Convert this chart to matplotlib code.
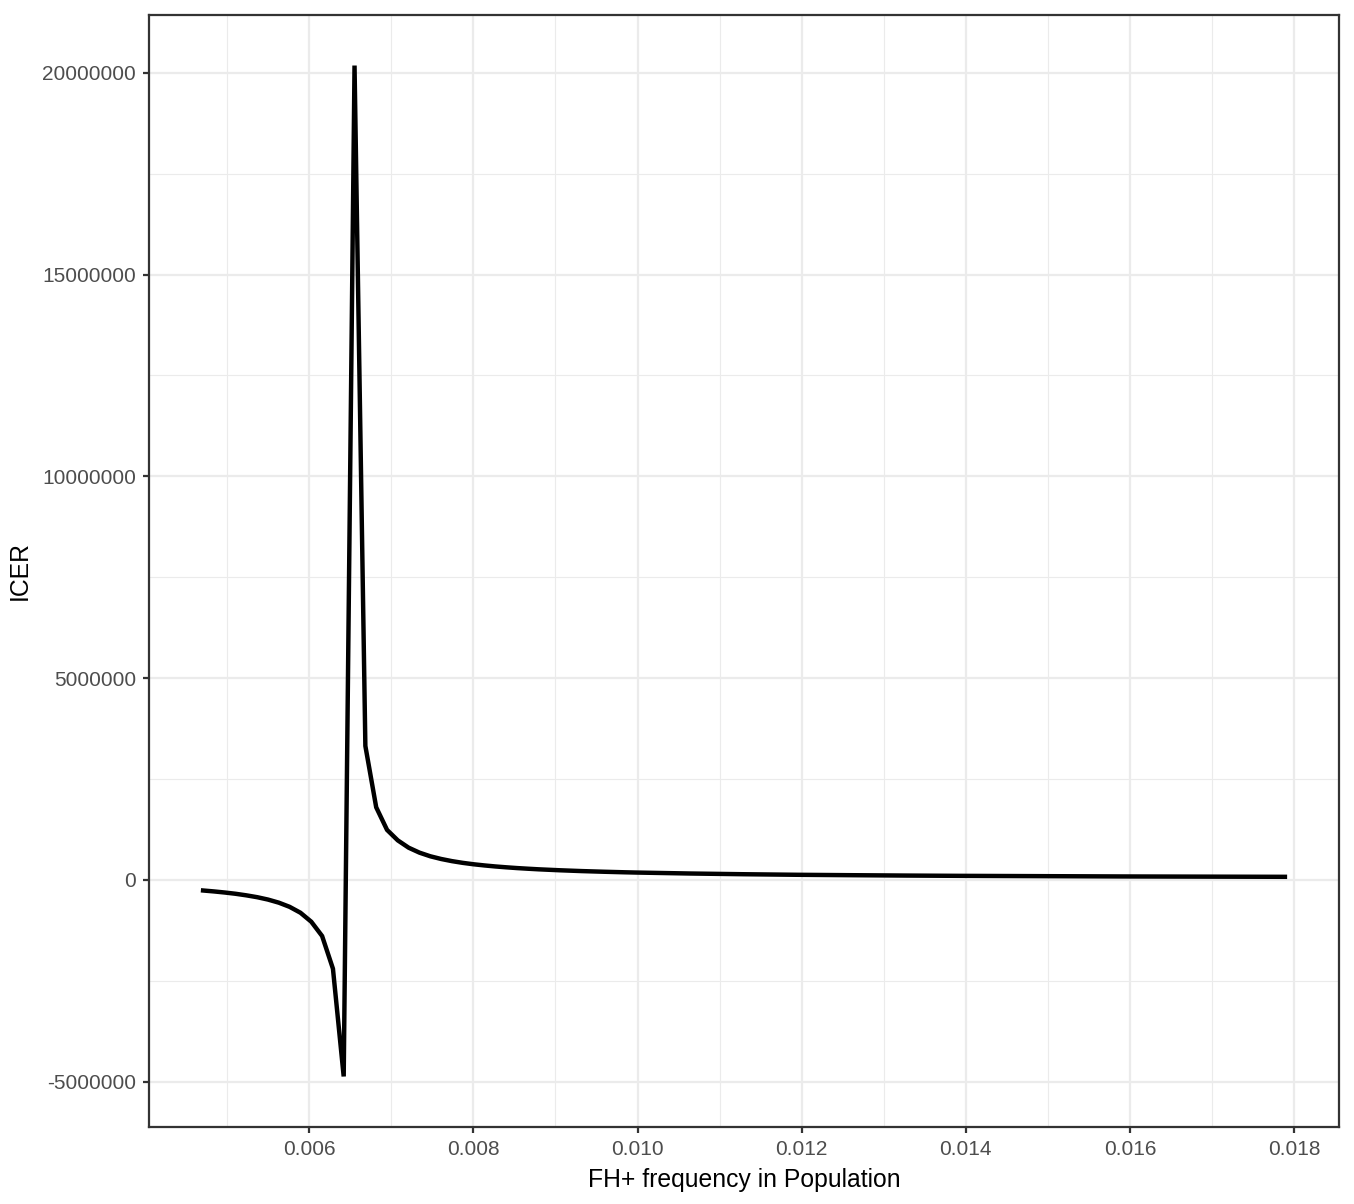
import numpy as np
import matplotlib.pyplot as plt
from matplotlib.ticker import MultipleLocator, FuncFormatter

# Données
freq = [0.004707, 0.004839, 0.004971, 0.005102, 0.005234, 0.005366, 0.005498,
        0.005630, 0.005761, 0.005893, 0.006025, 0.006157, 0.006289, 0.006420,
        0.006552, 0.006684, 0.006816, 0.006948, 0.007079, 0.007211, 0.007343,
        0.007475, 0.007607, 0.007738, 0.007870, 0.008002, 0.008134, 0.008266,
        0.008397, 0.008529, 0.008661, 0.008793, 0.008925, 0.009056, 0.009188,
        0.009320, 0.009452, 0.009584, 0.009715, 0.009847, 0.009979, 0.010638,
        0.011297, 0.011956, 0.012615, 0.013274, 0.013933, 0.014592, 0.015251,
        0.015910, 0.016569, 0.017228, 0.017887]

icer = [-262000, -285000, -312000, -343000, -382000, -428000, -487000,
        -564000, -667000, -813000, -1036000, -1390000, -2200000, -4870000,
        20180000, 3320000, 1800000, 1240000, 980000, 799000, 676000,
        586000, 519000, 466000, 423000, 388000, 359000, 334000,
        313000, 294000, 278000, 263000, 251000, 239000, 229000,
        219000, 211000, 203000, 196000, 189000, 183000, 159000,
        141000, 127000, 117000, 108000, 101000, 96000, 91000,
        86000, 83000, 80000, 77000]

x_label = "FH+ frequency in Population"
y_label = "ICER"

##############################################################################
# Figure

plt.rcParams['font.family'] = ['Liberation Sans', 'DejaVu Sans']

fig = plt.figure(figsize=(1354 / 150, 1204 / 150), dpi=150)
ax = fig.add_axes([149 / 1354, 77 / 1204, 1190 / 1354, 1112 / 1204])

ax.plot(freq, icer, color="black", lw=2.13, solid_joinstyle="miter", zorder=3)
ax.margins(0.05)

ax.xaxis.set_major_locator(MultipleLocator(0.002))
ax.xaxis.set_minor_locator(MultipleLocator(0.001))
ax.yaxis.set_major_locator(MultipleLocator(5000000))
ax.yaxis.set_minor_locator(MultipleLocator(2500000))
ax.xaxis.set_major_formatter(FuncFormatter(lambda v, p: f"{v:.3f}"))
ax.yaxis.set_major_formatter(FuncFormatter(lambda v, p: f"{int(round(v))}"))

ax.grid(which="major", color="#EBEBEB", lw=1.07)
ax.grid(which="minor", color="#EBEBEB", lw=0.53)
ax.set_axisbelow(True)

for s in ax.spines.values():
    s.set_color("#333333")
    s.set_linewidth(1.07)

ax.tick_params(which="major", length=2.75, width=1.07, color="#333333",
               labelcolor="#4D4D4D", labelsize=10, pad=3.5)
ax.tick_params(which="minor", length=0)

ax.set_xlabel(x_label, fontsize=11.9, color="black", labelpad=4.5)
ax.set_ylabel(y_label, fontsize=11.9, color="black", labelpad=5)

plt.savefig("out.png", dpi=150)
